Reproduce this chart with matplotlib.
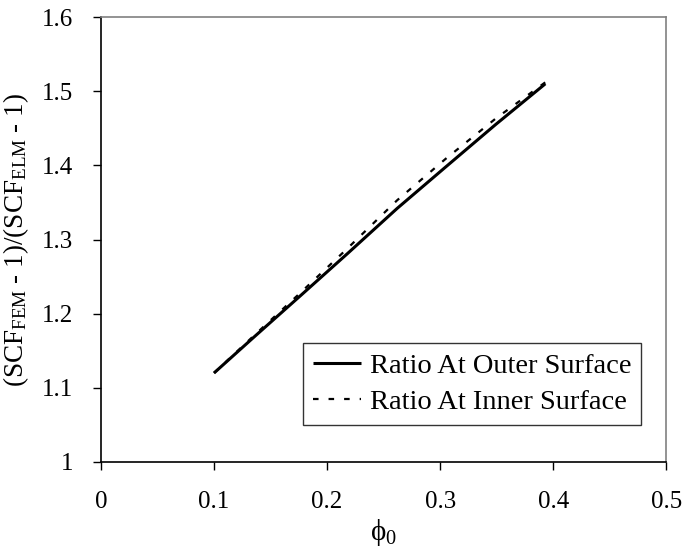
import matplotlib
matplotlib.use("Agg")
import matplotlib.pyplot as plt

plt.rcParams['font.family'] = ['Liberation Serif', 'DejaVu Serif']
plt.rcParams['mathtext.fontset'] = 'custom'
plt.rcParams['mathtext.rm'] = 'Liberation Serif'
plt.rcParams['mathtext.it'] = 'Liberation Serif:italic'

phi0 = [0.1, 0.135, 0.177, 0.218, 0.262, 0.305, 0.349, 0.393]
ratio_outer = [1.12, 1.168, 1.225, 1.281, 1.342, 1.398, 1.455, 1.51]
ratio_inner = [1.12, 1.170, 1.229, 1.288, 1.353, 1.409, 1.463, 1.512]
xticks = [0, 0.1, 0.2, 0.3, 0.4, 0.5]
yticks = [1, 1.1, 1.2, 1.3, 1.4, 1.5, 1.6]
xtick_labels = ['0', '0.1', '0.2', '0.3', '0.4', '0.5']
ytick_labels = ['1', '1.1', '1.2', '1.3', '1.4', '1.5', '1.6']

fig = plt.figure(figsize=(6.82, 5.5), dpi=100)
ax = fig.add_axes([0.148, 0.16, 0.829, 0.809])

ax.plot(phi0, ratio_outer, color='black', linewidth=2.2, solid_capstyle='butt',
        label='Ratio At Outer Surface')
ax.plot(phi0, ratio_inner, color='black', linewidth=1.6, dashes=(2.5, 4.5),
        label='Ratio At Inner Surface')

ax.set_xlim(0, 0.5)
ax.set_ylim(1, 1.6)
ax.set_xticks(xticks)
ax.set_xticklabels(xtick_labels)
ax.set_yticks(yticks)
ax.set_yticklabels(ytick_labels)
ax.tick_params(axis='both', direction='out', length=6, width=1, labelsize=18,
               colors='black', pad=14)
ax.tick_params(axis='x', pad=15)

for s in ['left', 'bottom']:
    ax.spines[s].set_color('black')
    ax.spines[s].set_linewidth(1.2)
for s in ['top', 'right']:
    ax.spines[s].set_color('#808080')
    ax.spines[s].set_linewidth(1.2)

ax.set_xlabel(r'$\mathrm{\phi}_{\mathrm{0}}$', fontsize=21, labelpad=3)
ax.set_ylabel(r'(SCF$_{\mathrm{FEM}}$ - 1)/(SCF$_{\mathrm{ELM}}$ - 1)', fontsize=19.5, labelpad=8)

leg = ax.legend(loc='lower right', bbox_to_anchor=(0.956, 0.083), borderaxespad=0,
                fontsize=20.5, frameon=True, fancybox=False, handlelength=1.7,
                handletextpad=0.3, borderpad=0.35, labelspacing=0.35)
leg.get_frame().set_edgecolor('black')
leg.get_frame().set_linewidth(1.0)

fig.savefig('out.png', dpi=100)
